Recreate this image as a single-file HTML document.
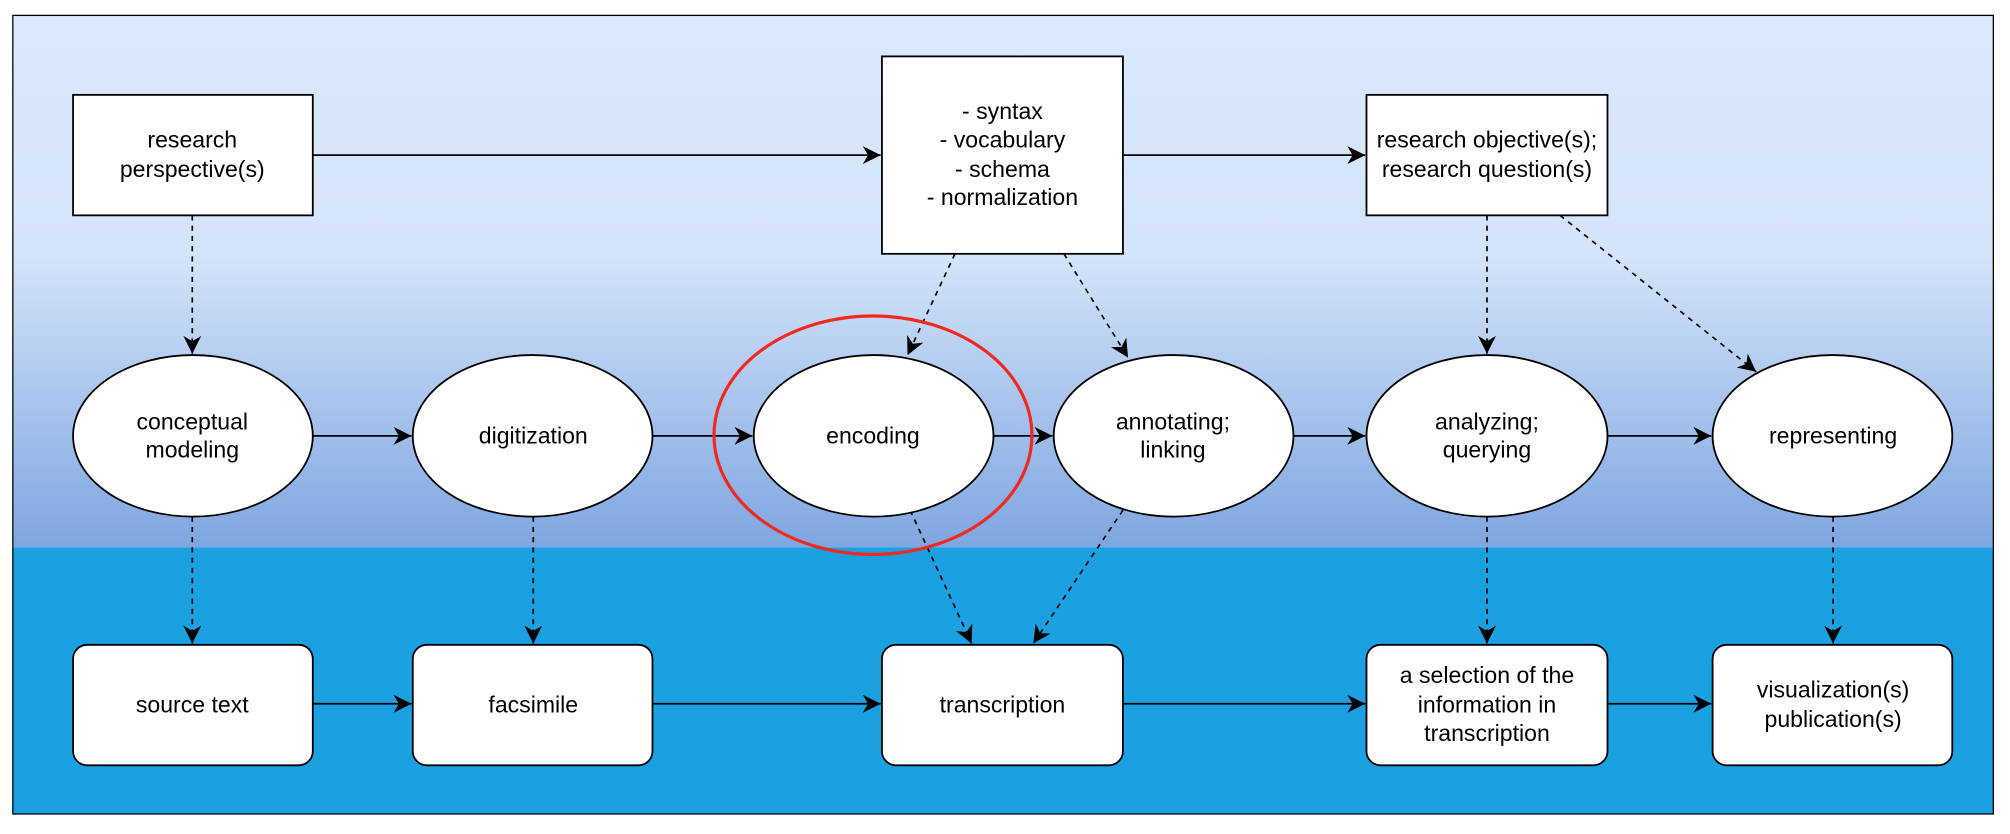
<!DOCTYPE html>
<html><head><meta charset="utf-8"><style>
html,body{margin:0;padding:0;background:#fff;}
svg{display:block;}
text{font-family:"Liberation Sans",Arial,sans-serif;font-size:18px;fill:#000;text-anchor:middle;}
</style></head><body>
<svg width="2010" height="834" viewBox="0 0 1568 650.6" preserveAspectRatio="none" xmlns="http://www.w3.org/2000/svg">
<defs>
<linearGradient id="g" x1="0" y1="0" x2="0" y2="1">
<stop offset="0" stop-color="#dae8fc"/>
<stop offset="0.45" stop-color="#d4e4fa"/>
<stop offset="1" stop-color="#7ea6e0"/>
</linearGradient>
<marker id="a" markerWidth="14" markerHeight="14" refX="10" refY="5" orient="auto" markerUnits="userSpaceOnUse" viewBox="0 0 10 10">
<path d="M0,0 L10,5 L0,10 L3,5 z" fill="#000"/>
</marker>
</defs>
<rect x="0" y="0" width="1568" height="651" fill="#fff"/>
<rect x="10" y="12" width="1545" height="415" fill="url(#g)"/>
<rect x="10" y="427" width="1545" height="208" fill="#1ba1e2"/>
<rect x="10" y="12" width="1545" height="623" fill="none" stroke="#000" stroke-width="1"/>

<g stroke="#000" stroke-width="1.4" fill="none">
<line x1="244" y1="121" x2="687" y2="121" marker-end="url(#a)"/>
<line x1="876" y1="121" x2="1065" y2="121" marker-end="url(#a)"/>
<line x1="244" y1="340" x2="321" y2="340" marker-end="url(#a)"/>
<line x1="509" y1="340" x2="587" y2="340" marker-end="url(#a)"/>
<line x1="775" y1="340" x2="821" y2="340" marker-end="url(#a)"/>
<line x1="1009" y1="340" x2="1065" y2="340" marker-end="url(#a)"/>
<line x1="1254" y1="340" x2="1335" y2="340" marker-end="url(#a)"/>
<line x1="244" y1="549" x2="321" y2="549" marker-end="url(#a)"/>
<line x1="509" y1="549" x2="687" y2="549" marker-end="url(#a)"/>
<line x1="876" y1="549" x2="1065" y2="549" marker-end="url(#a)"/>
<line x1="1254" y1="549" x2="1335" y2="549" marker-end="url(#a)"/>
</g>
<g stroke="#000" stroke-width="1.3" fill="none" stroke-dasharray="4,4">
<line x1="150" y1="168" x2="150" y2="276" marker-end="url(#a)"/>
<line x1="745" y1="198" x2="708" y2="277" marker-end="url(#a)"/>
<line x1="830" y1="198" x2="880" y2="279" marker-end="url(#a)"/>
<line x1="1160" y1="168" x2="1160" y2="276" marker-end="url(#a)"/>
<line x1="1217" y1="168" x2="1370" y2="290" marker-end="url(#a)"/>
<line x1="150" y1="403" x2="150" y2="502" marker-end="url(#a)"/>
<line x1="416" y1="403" x2="416" y2="502" marker-end="url(#a)"/>
<line x1="710" y1="398" x2="758" y2="502" marker-end="url(#a)"/>
<line x1="876" y1="398" x2="806" y2="502" marker-end="url(#a)"/>
<line x1="1160" y1="403" x2="1160" y2="502" marker-end="url(#a)"/>
<line x1="1430" y1="403" x2="1430" y2="502" marker-end="url(#a)"/>
</g>

<g fill="#fff" stroke="#000" stroke-width="1.4">
<rect x="57" y="74" width="187" height="94"/>
<rect x="688" y="44" width="188" height="154"/>
<rect x="1066" y="74" width="188" height="94"/>
<ellipse cx="150.5" cy="340" rx="93.5" ry="63"/>
<ellipse cx="415.5" cy="340" rx="93.5" ry="63"/>
<ellipse cx="681.5" cy="340" rx="93.5" ry="63"/>
<ellipse cx="915.5" cy="340" rx="93.5" ry="63"/>
<ellipse cx="1160" cy="340" rx="94" ry="63"/>
<ellipse cx="1429.5" cy="340" rx="93.5" ry="63"/>
<rect x="57" y="503" width="187" height="94" rx="11"/>
<rect x="322" y="503" width="187" height="94" rx="11"/>
<rect x="688" y="503" width="188" height="94" rx="11"/>
<rect x="1066" y="503" width="188" height="94" rx="11"/>
<rect x="1336" y="503" width="187" height="94" rx="11"/>
</g>
<ellipse cx="681" cy="339.5" rx="124" ry="93" fill="none" stroke="#f0281e" stroke-width="2.5"/>

<text x="150" y="115">research</text>
<text x="150" y="138">perspective(s)</text>
<text x="782" y="93">- syntax</text>
<text x="782" y="115">- vocabulary</text>
<text x="782" y="138">- schema</text>
<text x="782" y="160">- normalization</text>
<text x="1160" y="115">research objective(s);</text>
<text x="1160" y="138">research question(s)</text>
<text x="150" y="335">conceptual</text>
<text x="150" y="357">modeling</text>
<text x="416" y="346">digitization</text>
<text x="681" y="346">encoding</text>
<text x="915" y="335">annotating;</text>
<text x="915" y="357">linking</text>
<text x="1160" y="335">analyzing;</text>
<text x="1160" y="357">querying</text>
<text x="1430" y="346">representing</text>
<text x="150" y="556">source text</text>
<text x="416" y="556">facsimile</text>
<text x="782" y="556">transcription</text>
<text x="1160" y="533">a selection of the</text>
<text x="1160" y="556">information in</text>
<text x="1160" y="578">transcription</text>
<text x="1430" y="544">visualization(s)</text>
<text x="1430" y="567">publication(s)</text>
</svg>
</body></html>
